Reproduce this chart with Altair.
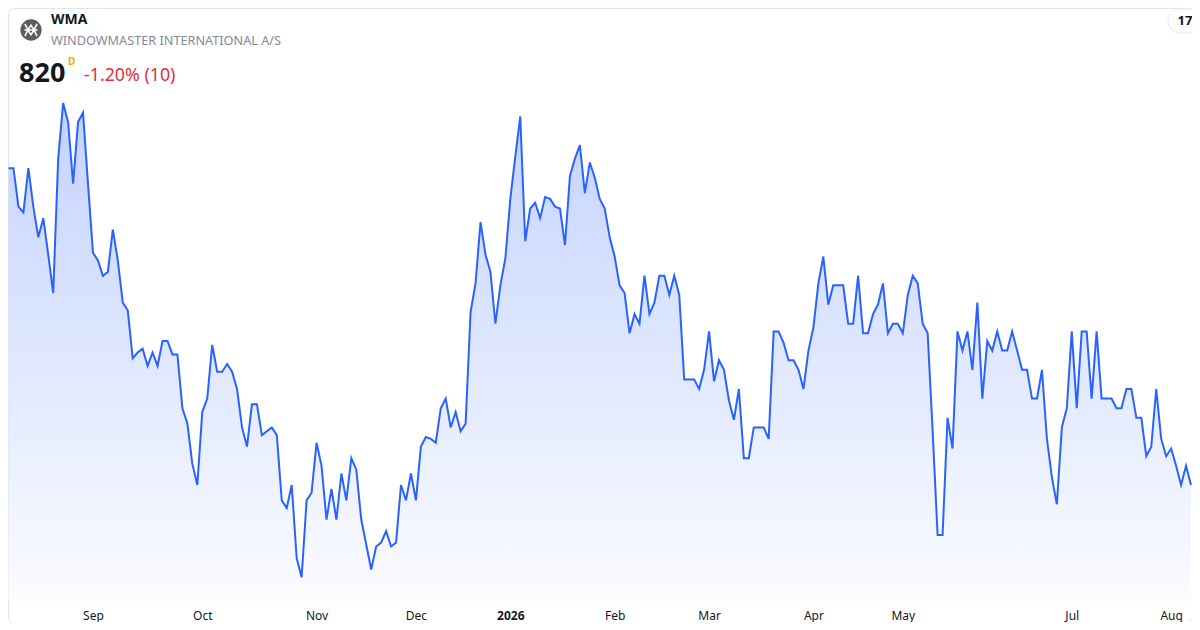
import altair as alt
import pandas as pd

# ---- header texts ----
ticker = "WMA"
company = "WINDOWMASTER INTERNATIONAL A/S"
last_price = "820"
interval = "D"
change_text = "-1.20% (10)"

# ---- daily closes (one per trading session) ----
prices = [985, 985, 965, 962, 985, 965, 949, 959, 940, 920,
          990, 1019, 1009, 977, 1009, 1014, 977, 941, 937, 929,
          931, 953, 937, 915, 911, 886, 889, 891, 882, 889,
          882, 895, 895, 888, 888, 860, 852, 831, 820, 858,
          865, 893, 879, 879, 883, 879, 870, 850, 840, 862,
          862, 846, 848, 850, 846, 812, 808, 820, 782, 772,
          812, 816, 842, 830, 802, 818, 802, 826, 812, 834,
          828, 802, 789, 776, 788, 790, 796, 788, 790, 820,
          812, 826, 812, 840, 845, 844, 842, 860, 865, 850,
          858, 848, 852, 910, 925, 957, 940, 931, 904, 924,
          938, 969, 991, 1012, 947, 964, 967, 959, 970, 969,
          965, 964, 945, 981, 990, 997, 972, 988, 980, 969,
          964, 949, 939, 924, 920, 899, 909, 904, 929, 909,
          915, 929, 929, 919, 929, 919, 875, 875, 875, 870,
          880, 900, 874, 885, 880, 864, 854, 870, 834, 834,
          850, 850, 850, 844, 900, 900, 894, 885, 885, 880,
          870, 890, 902, 925, 939, 914, 924, 924, 924, 904,
          904, 929, 899, 899, 909, 914, 925, 899, 904, 904,
          899, 919, 929, 925, 904, 899, 848, 794, 794, 855,
          839, 900, 890, 900, 880, 915, 865, 895, 890, 900,
          890, 890, 900, 890, 880, 880, 865, 865, 880, 844,
          824, 810, 850, 860, 900, 860, 900, 900, 865, 900,
          865, 865, 865, 860, 860, 870, 870, 855, 855, 835,
          840, 870, 844, 835, 839, 830, 820, 830, 820]

# ---- x-axis month labels and the session index each one sits on ----
month_labels = ["Sep", "Oct", "Nov", "Dec", "2026", "Feb", "Mar", "Apr", "May", "Jul", "Aug"]
month_sessions = [17, 39, 62, 82, 101, 122, 141, 162, 180, 214, 234]

df = pd.DataFrame({"session": list(range(len(prices))), "price": prices})

label_expr = " : ".join(
    f"datum.value == {p} ? '{l}'" for p, l in zip(month_sessions, month_labels)
) + " : ''"
year_session = month_sessions[month_labels.index("2026")]

FONT = "Noto Sans"

x_scale = alt.Scale(domain=[-0.1, 238.2], nice=False, zero=False)
y_scale = alt.Scale(domain=[748.65, 1068.44], nice=False, zero=False)

x_enc = alt.X(
    "session:Q",
    scale=x_scale,
    title=None,
    axis=alt.Axis(
        values=month_sessions,
        labelExpr=label_expr,
        grid=False,
        domain=False,
        ticks=False,
        tickSize=0,
        labelPadding=9,
        offset=-21,
        labelFont=FONT,
        labelFontSize=12,
        labelColor="#131722",
        labelFlush=False,
        labelOverlap=False,
        labelFontWeight={"condition": {"test": f"datum.value == {year_session}", "value": "bold"},
                         "value": "normal"},
    ),
)
y_enc = alt.Y("price:Q", scale=y_scale, axis=None)

gradient = alt.Gradient(
    gradient="linear",
    stops=[alt.GradientStop(color="#c3d2fe", offset=0),
           alt.GradientStop(color="#fbfcff", offset=1)],
    x1=1, x2=1, y1=0, y2=1,
)

base = alt.Chart(df)

area = base.mark_area(color=gradient).encode(x=x_enc, y=y_enc, y2=alt.datum(759.58))
line = base.mark_line(color="#2962ff", strokeWidth=2).encode(x=x_enc, y=y_enc)


def one_text(text, x, y, size, color, weight="normal", baseline="middle", align="left"):
    return alt.Chart(alt.Data(values=[{"t": text}])).mark_text(
        align=align, baseline=baseline, font=FONT, fontSize=size,
        fontWeight=weight, color=color,
    ).encode(text="t:N", x=alt.value(x), y=alt.value(y))


logo = alt.Chart(alt.Data(values=[{"k": 1}])).mark_point(
    filled=True, shape="circle", size=452, color="#5d5d5d", opacity=1
).encode(x=alt.value(23), y=alt.value(22))
logo_glyph = alt.Chart(alt.Data(values=[{"k": 1}])).mark_point(
    filled=False, opacity=1, color="white", strokeWidth=1.6, size=300,
    shape="M-0.7,-0.7L-0.35,0L0,-0.55L0.35,0L0.7,-0.7M-0.7,0.7L-0.35,0L0,0.55L0.35,0L0.7,0.7M-0.75,0L0.75,0",
).encode(x=alt.value(23), y=alt.value(22))

t_ticker = one_text(ticker, 43, 12, 14, "#131722", "bold")
t_company = one_text(company, 43, 33, 12.7, "#868993")
t_price = one_text(last_price, 11, 74, 27, "#131722", "bold", "alphabetic")
t_interval = one_text(interval, 60, 54, 10, "#f7a600", "bold")
t_change = one_text(change_text, 76, 73, 17.8, "#e0303a", "normal", "alphabetic")

badge = alt.Chart(alt.Data(values=[{"k": 1}])).mark_rect(
    fill="white", stroke="#e6e8ee", strokeWidth=1, cornerRadius=12
).encode(x=alt.value(1160), x2=alt.value(1200), y=alt.value(1), y2=alt.value(25))
badge_text = one_text("17", 1177, 13, 13, "#131722", "bold", "middle", "center")

chart = alt.layer(
    area, line, logo, logo_glyph, t_ticker, t_company, t_price, t_interval, t_change,
    badge, badge_text,
).properties(
    width=1184, height=614, padding=0,
    autosize=alt.AutoSizeParams(type="none"),
    background="white",
).configure_view(
    stroke="#e0e3eb", strokeWidth=1, cornerRadius=6,
)

chart.save("out.html", embed_options={"renderer": "svg", "actions": False})
